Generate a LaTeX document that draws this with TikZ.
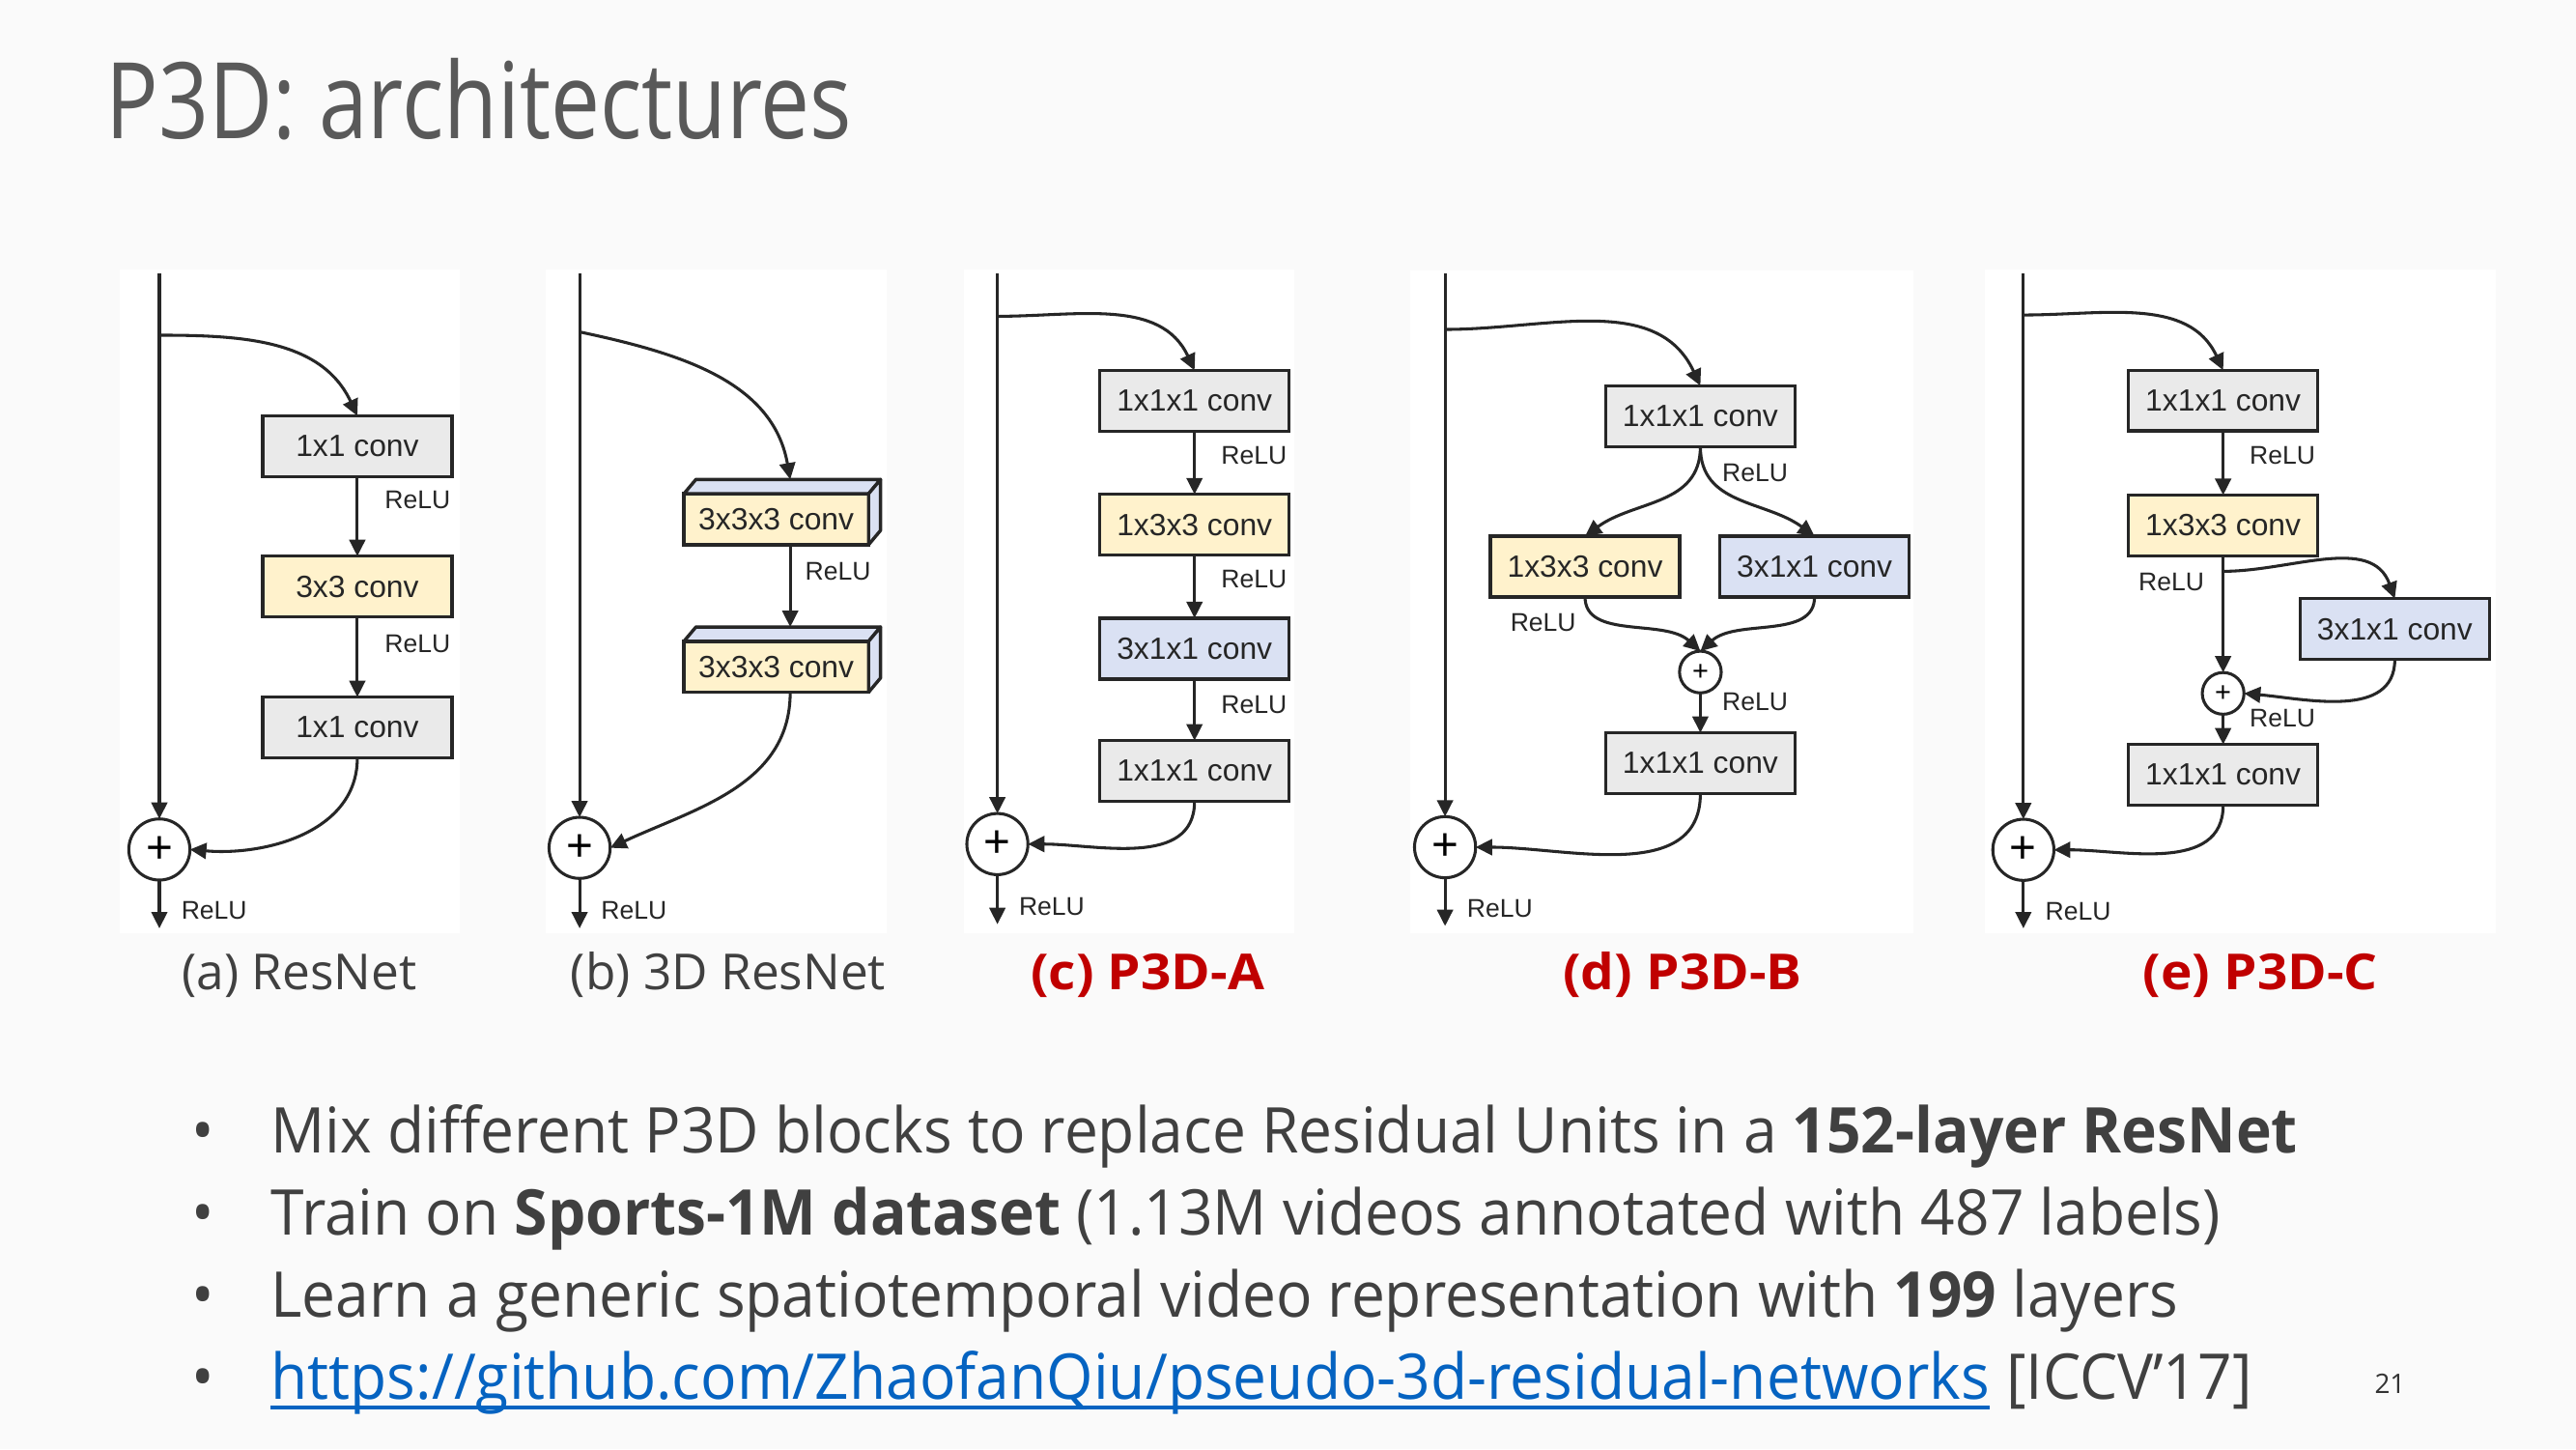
\documentclass[tikz,border=0pt]{standalone}
\usepackage{fontspec}
\usetikzlibrary{arrows.meta,calc}
\newfontfamily\titlefont{Open Sans}[FakeStretch=0.83]
\newfontfamily\bodyfont{Open Sans}[FakeStretch=0.953]
\newfontfamily\capfont{Open Sans}
\newfontfamily\redcapfont{Open Sans}[FakeStretch=1.07]
\newfontfamily\diafont{Liberation Sans}
\definecolor{bgc}{HTML}{FAFAFA}
\definecolor{titlec}{HTML}{595959}
\definecolor{textc}{HTML}{404040}
\definecolor{redc}{HTML}{C00000}
\definecolor{linkc}{HTML}{0563C1}
\definecolor{boxgray}{HTML}{EAEAEA}
\definecolor{boxyel}{HTML}{FFF2CC}
\definecolor{boxblu}{HTML}{DAE1F3}
\definecolor{linec}{HTML}{262626}
\begin{document}
\begin{tikzpicture}[x=0.5pt,y=-0.5pt,
  panel/.style={fill=white,draw=none},
  cbox/.style={draw=linec,line width=1pt,minimum width=57.6pt,minimum height=18.5pt,inner sep=0pt,outer sep=0pt,
    font=\diafont\fontsize{9.35pt}{10pt}\selectfont,text=black!85},
  boxg/.style={cbox,fill=boxgray},
  boxy/.style={cbox,fill=boxyel},
  boxb/.style={cbox,fill=boxblu},
  relu/.style={font=\diafont\fontsize{7.8pt}{8pt}\selectfont,inner sep=0pt,anchor=west,text=black!85},
  conn/.style={line width=0.9pt,draw=linec},
  arr/.style={conn,-{Triangle[length=5pt,width=4.8pt]}},
  bigsum/.style={circle,draw=linec,line width=0.9pt,fill=white,minimum size=18.6pt,inner sep=0pt,outer sep=0pt,
    font=\diafont\fontsize{14pt}{14pt}\selectfont},
  smallsum/.style={circle,draw=linec,line width=0.9pt,fill=white,minimum size=12.7pt,inner sep=0pt,outer sep=0pt,
    font=\diafont\fontsize{8.5pt}{8.5pt}\selectfont},
  caption/.style={anchor=base west,inner sep=0pt,font=\capfont\fontsize{15.1pt}{18pt}\selectfont,text=textc},
  redcap/.style={caption,text=redc,font=\redcapfont\bfseries\fontsize{15.1pt}{18pt}\selectfont},
  bodytext/.style={anchor=base west,inner sep=0pt,font=\bodyfont\fontsize{19.2pt}{23pt}\selectfont,text=textc},
  bullet/.style={anchor=base,inner sep=0pt,font=\bodyfont\fontsize{19.2pt}{23pt}\selectfont,text=textc}
]
\path[use as bounding box,fill=bgc] (0,0) rectangle (1568,882);

% title
\node[anchor=base west,inner sep=0pt,text=titlec,font=\titlefont\fontsize{32.2pt}{36pt}\selectfont] (title) at (64,84.3) {P3D: architectures};

% panels
\fill[panel] (73,164) rectangle (280,567.7);
\fill[panel] (332,164) rectangle (540,567.7);
\fill[panel] (587,164) rectangle (788,567.7);
\fill[panel] (858.4,164.6) rectangle (1164.7,567.7);
\fill[panel] (1208,164) rectangle (1519,567.7);

% ---------- (a) ResNet ----------
\node[boxg] (a1) at (217.5,271.6) {1x1 conv};
\node[boxy] (a2) at (217.5,357) {3x3 conv};
\node[boxg] (a3) at (217.5,442.8) {1x1 conv};
\node[bigsum] (pa) at (97,517) {+};
\coordinate (ta) at (97,166.5);
\coordinate (sa) at (97,204);
\coordinate (oa) at (97,565);
\draw[arr] (ta) -- (pa.north);
\draw[arr] (sa) to[out=0,in=115] (a1.north);
\draw[arr] (a1.south) -- (a2.north);
\draw[arr] (a2.south) -- (a3.north);
\draw[arr] (a3.south) to[out=-90,in=-5] (pa.east);
\draw[arr] (pa.south) -- (oa);
\node[relu] (ra1) at (233.8,304.5) {ReLU};
\node[relu] (ra2) at (233.8,392) {ReLU};
\node[relu] (ra3) at (110,554) {ReLU};

% ---------- (b) 3D ResNet ----------
\node[boxy,minimum width=56.2pt,minimum height=15.5pt] (b1) at (472.5,316) {3x3x3 conv};
\node[boxy,minimum width=56.2pt,minimum height=15.5pt] (b2) at (472.5,405.8) {3x3x3 conv};
\foreach \b in {b1,b2}{
  \draw[line width=1pt,draw=linec,fill=boxblu,line join=round]
    (\b.north west) -- ($(\b.north west)+(7.3,-8.7)$) -- ($(\b.north east)+(7.3,-8.7)$) -- (\b.north east) -- cycle;
  \draw[line width=1pt,draw=linec,fill=boxblu,line join=round]
    (\b.north east) -- ($(\b.north east)+(7.3,-8.7)$) -- ($(\b.south east)+(7.3,-8.7)$) -- (\b.south east) -- cycle;
}
\node[bigsum] (pb) at (352.8,516) {+};
\coordinate (tb) at (352.8,166.5);
\coordinate (sb) at (352.8,202);
\coordinate (ob) at (352.8,565);
\draw[arr] (tb) -- (pb.north);
\draw[arr] (sb) to[out=-12,in=100] ($(b1.north)+(8.5,-8.7)$);
\draw[arr] ($(b1.south)+(8.5,0)$) -- ($(b2.north)+(8.5,-8.7)$);
\draw[arr] ($(b2.south)+(8.5,0)$) to[out=-90,in=25] (pb.east);
\draw[arr] (pb.south) -- (ob);
\node[relu] (rb1) at (489.7,347.5) {ReLU};
\node[relu] (rb2) at (365.5,554) {ReLU};

% ---------- (c) P3D-A ----------
\node[boxg] (c1) at (727.1,243.9) {1x1x1 conv};
\node[boxy] (c2) at (727.1,319.4) {1x3x3 conv};
\node[boxb] (c3) at (727.1,394.7) {3x1x1 conv};
\node[boxg] (c4) at (727.1,469.2) {1x1x1 conv};
\node[bigsum] (pc) at (607.1,513.7) {+};
\coordinate (tc) at (607.1,166.5);
\coordinate (sc) at (607.1,192.5);
\coordinate (oc) at (607.1,562.5);
\draw[arr] (tc) -- (pc.north);
\draw[arr] (sc) to[out=0,in=115] (c1.north);
\draw[arr] (c1.south) -- (c2.north);
\draw[arr] (c2.south) -- (c3.north);
\draw[arr] (c3.south) -- (c4.north);
\draw[arr] (c4.south) to[out=-90,in=0] (pc.east);
\draw[arr] (pc.south) -- (oc);
\node[relu] (rc1) at (743,277.5) {ReLU};
\node[relu] (rc2) at (743,352.6) {ReLU};
\node[relu] (rc3) at (743,428.6) {ReLU};
\node[relu] (rc4) at (619.9,551.5) {ReLU};

% ---------- (d) P3D-B ----------
\node[boxg] (d1) at (1035,253.3) {1x1x1 conv};
\node[boxy] (d2) at (964.8,344.8) {1x3x3 conv};
\node[boxb] (d3) at (1104.5,344.8) {3x1x1 conv};
\node[smallsum] (ds) at (1035,409) {+};
\node[boxg] (d4) at (1035,464.5) {1x1x1 conv};
\node[bigsum] (pd) at (879.6,515.6) {+};
\coordinate (td) at (879.6,166.5);
\coordinate (sd) at (879.6,200.5);
\coordinate (od) at (879.6,563.6);
\draw[arr] (td) -- (pd.north);
\draw[arr] (sd) to[out=0,in=115] (d1.north);
\draw[arr] (d1.south) .. controls +(0,36) and +(30,-22) .. (d2.north);
\draw[arr] (d1.south) .. controls +(0,36) and +(-30,-22) .. (d3.north);
\draw[arr] (d2.south) .. controls +(0,26) and +(-22,-20) .. (ds.north);
\draw[arr] (d3.south) .. controls +(0,26) and +(22,-20) .. (ds.north);
\draw[arr] (ds.south) -- (d4.north);
\draw[arr] (d4.south) to[out=-90,in=0] (pd.east);
\draw[arr] (pd.south) -- (od);
\node[relu] (rd1) at (1048,287.8) {ReLU};
\node[relu] (rd2) at (919,378.7) {ReLU};
\node[relu] (rd3) at (1048,427) {ReLU};
\node[relu] (rd4) at (892.6,553) {ReLU};

% ---------- (e) P3D-C ----------
\node[boxg] (e1) at (1353.2,243.8) {1x1x1 conv};
\node[boxy] (e2) at (1353.2,319.8) {1x3x3 conv};
\node[boxb] (e3) at (1457.7,382.8) {3x1x1 conv};
\node[smallsum] (es) at (1353.2,422) {+};
\node[boxg] (e4) at (1353.2,471.6) {1x1x1 conv};
\node[bigsum] (pe) at (1231.6,517.2) {+};
\coordinate (te) at (1231.6,166.5);
\coordinate (se) at (1231.6,191.7);
\coordinate (oe) at (1231.6,565);
\coordinate (eb) at (1353.2,347.7);
\draw[arr] (te) -- (pe.north);
\draw[arr] (se) to[out=0,in=115] (e1.north);
\draw[arr] (e1.south) -- (e2.north);
\draw[arr] (e2.south) -- (es.north);
\draw[arr] (eb) to[out=0,in=110] (e3.north);
\draw[arr] (e3.south) to[out=-90,in=-5] (es.east);
\draw[arr] (es.south) -- (e4.north);
\draw[arr] (e4.south) to[out=-90,in=0] (pe.east);
\draw[arr] (pe.south) -- (oe);
\node[relu] (re1) at (1369,277.5) {ReLU};
\node[relu,anchor=east] (re2) at (1342,354.5) {ReLU};
\node[relu] (re3) at (1369,437.3) {ReLU};
\node[relu] (re4) at (1244.6,555) {ReLU};

% captions
\node[caption] (capa) at (110.5,602.6) {(a) ResNet};
\node[caption] (capb) at (347,602.6) {(b) 3D ResNet};
\node[redcap] (capc) at (627,602.6) {(c) P3D-A};
\node[redcap] (capd) at (951,602.6) {(d) P3D-B};
\node[redcap] (cape) at (1304,602.6) {(e) P3D-C};

% bullets
\node[bullet] (u1) at (123.5,701.5) {•};
\node[bullet] (u2) at (123.5,751.5) {•};
\node[bullet] (u3) at (123.5,801.5) {•};
\node[bullet] (u4) at (123.5,851.5) {•};
\node[bodytext] (l1) at (164.6,701.5) {Mix different P3D blocks to replace Residual Units in a \textbf{152-layer ResNet}};
\node[bodytext] (l2) at (164.6,751.5) {Train on \textbf{Sports-1M dataset} (1.13M videos annotated with 487 labels)};
\node[bodytext] (l3) at (164.6,801.5) {Learn a generic spatiotemporal video representation with \textbf{199} layers};
\node[bodytext,text=linkc] (lk) at (164.6,851.5) {https://github.com/ZhaofanQiu/pseudo-3d-residual-networks};
\draw[linkc,line width=1pt] ($(lk.base west)+(0,5)$) -- ($(lk.base east)+(0,5)$);
\node[bodytext] (iccv) at (lk.base east) {\ [ICCV’17]};

% page number
\node[anchor=base west,inner sep=0pt,font=\capfont\fontsize{8.2pt}{9pt}\selectfont,text=black!80] (pg) at (1445,848) {21};
\end{tikzpicture}
\end{document}
